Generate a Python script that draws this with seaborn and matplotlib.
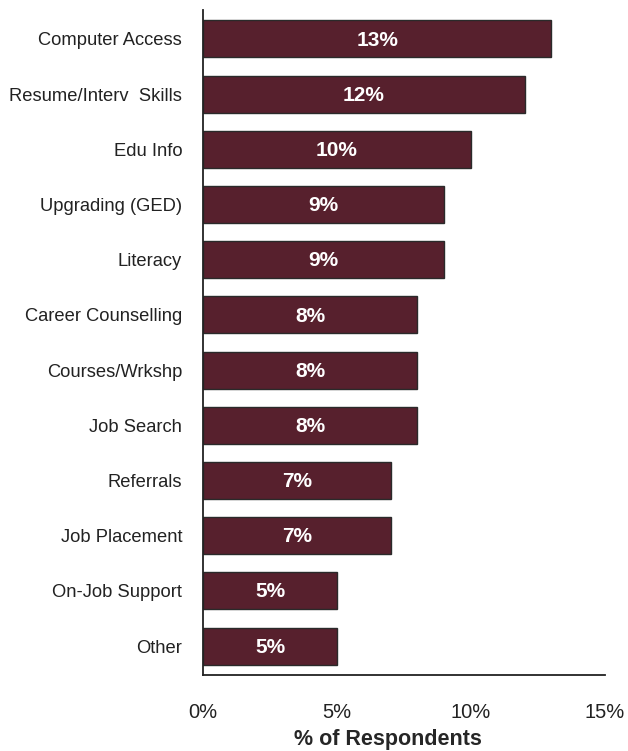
import matplotlib
matplotlib.use("Agg")
import matplotlib.pyplot as plt
import seaborn as sns
import pandas as pd

services = ["Computer Access", "Resume/Interv  Skills", "Edu Info", "Upgrading (GED)",
            "Literacy", "Career Counselling", "Courses/Wrkshp", "Job Search",
            "Referrals", "Job Placement", "On-Job Support", "Other"]
percent = [13, 12, 10, 9, 9, 8, 8, 8, 7, 7, 5, 5]
x_ticks = [0, 5, 10, 15]
x_tick_labels = ["0%", "5%", "10%", "15%"]

df = pd.DataFrame({"service": services, "percent": percent})

sns.set_theme(style="white")
plt.rcParams["font.family"] = ["Liberation Sans", "DejaVu Sans"]

fig = plt.figure(figsize=(6.28, 7.51), dpi=100)
ax = fig.add_axes([203 / 628, 1 - 675 / 751, 402 / 628, 665 / 751])

sns.barplot(data=df, x="percent", y="service", orient="h", ax=ax,
            color="#57202D", saturation=1, width=0.67,
            edgecolor="#2a2a2a", linewidth=1.0)

for patch, val in zip(ax.patches, percent):
    cy = patch.get_y() + patch.get_height() / 2
    ax.text(val / 2, cy + 0.02, f"{val}%", ha="center", va="center",
            color="white", fontsize=15, fontweight="bold")

ax.set_xlim(0, 15)
ax.set_ylim(11.525, -0.525)
ax.set_xticks(x_ticks)
ax.set_xticklabels(x_tick_labels, fontsize=14.5, color="#222222")
ax.tick_params(axis="x", length=0, pad=20)
ax.tick_params(axis="y", length=0, pad=15, labelsize=13.2, labelcolor="#222222")
ax.set_ylabel("")
ax.set_xlabel("% of Respondents", fontsize=15.5, fontweight="bold")
ax.xaxis.label.set_verticalalignment("center")
ax.xaxis.set_label_coords(0.459, -0.0965)

for side in ["top", "right"]:
    ax.spines[side].set_visible(False)
for side in ["left", "bottom"]:
    ax.spines[side].set_color("#222222")
    ax.spines[side].set_linewidth(1.3)

fig.savefig("out.png", dpi=100)
